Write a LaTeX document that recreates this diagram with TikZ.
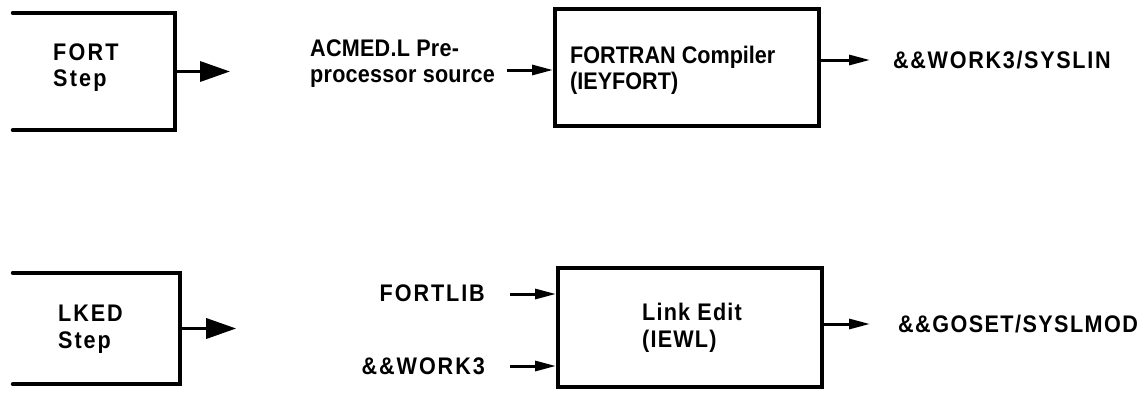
\documentclass[tikz,border=0pt]{standalone}
\usepackage{fontspec}
\setmainfont{Liberation Sans}
\newfontfamily\diagfont[FakeStretch=0.9]{Liberation Sans}
\usetikzlibrary{arrows.meta,calc}
\begin{document}
\begin{tikzpicture}[x=1pt,y=-1pt,
  lbl/.style={font=\fontsize{24}{26.5}\diagfont\bfseries\addfontfeatures{LetterSpace=#1}, align=left, inner sep=0pt},
  lbl/.default=4,
  stepframe/.style={line width=4pt, line cap=round, line join=miter},
  stepbox/.style={rectangle, inner sep=0pt},
  procbox/.style={draw, rectangle, line width=4pt, inner sep=0pt},
  bigarrow/.style={line width=3.5pt, -{Triangle[length=30pt,width=20pt]}},
  wire/.style={line width=3pt, -{Triangle[length=21pt,width=10pt]}}
]
\useasboundingbox (0,0) rectangle (1144,402);

% ---------- FORT step ----------
\node[stepbox, minimum width=162pt, minimum height=117pt] (fort) at (94,71.5) {};
\draw[stepframe] (fort.north west) -- (fort.north east) -- (fort.south east) -- (fort.south west);
\node[lbl=9, anchor=west] (forttext) at (53,67.5) {FORT\\Step};
\coordinate (fortend) at (230,71.5);
\draw[bigarrow] (fort.east) -- (fortend);

\node[lbl=1, anchor=west] (acmed) at (310,63.5) {ACMED.L Pre-\\processor source};

\node[procbox, minimum width=264pt, minimum height=117pt] (fc) at (687,67.5) {};
\node[lbl=0, anchor=west] (fctext) at (570,70.5) {FORTRAN Compiler\\(IEYFORT)};
\coordinate (acmedout) at (507,70);
\draw[wire] (acmedout) -- (acmedout -| fc.west);

\coordinate (syslinin) at (870,60);
\draw[wire] (syslinin -| fc.east) -- (syslinin);
\node[lbl=7, anchor=west] (syslin) at (893,60) {\&\&WORK3/SYSLIN};

% ---------- LKED step ----------
\node[stepbox, minimum width=167pt, minimum height=111pt] (lked) at (96.5,328.5) {};
\draw[stepframe] (lked.north west) -- (lked.north east) -- (lked.south east) -- (lked.south west);
\node[lbl=8, anchor=west] (lkedtext) at (58,329) {LKED\\Step};
\coordinate (lkedend) at ($(lked.east)+(56,0)$);
\draw[bigarrow] (lked.east) -- (lkedend);

\node[lbl=8, anchor=east] (fortlib) at (485,293) {FORTLIB};
\node[lbl=8, anchor=east] (work3) at (485,366) {\&\&WORK3};

\node[procbox, minimum width=264pt, minimum height=119pt] (le) at (690,327.5) {};
\node[lbl=5] (letext) at (692,328) {Link Edit\\(IEWL)};
\coordinate (fortlibout) at (510,294);
\coordinate (work3out) at (510,366);
\draw[wire] (fortlibout) -- (fortlibout -| le.west);
\draw[wire] (work3out) -- (work3out -| le.west);

\coordinate (goin) at (870,324);
\draw[wire] (goin -| le.east) -- (goin);
\node[lbl=6, anchor=west] (goset) at (898,324) {\&\&GOSET/SYSLMOD};
\end{tikzpicture}
\end{document}
